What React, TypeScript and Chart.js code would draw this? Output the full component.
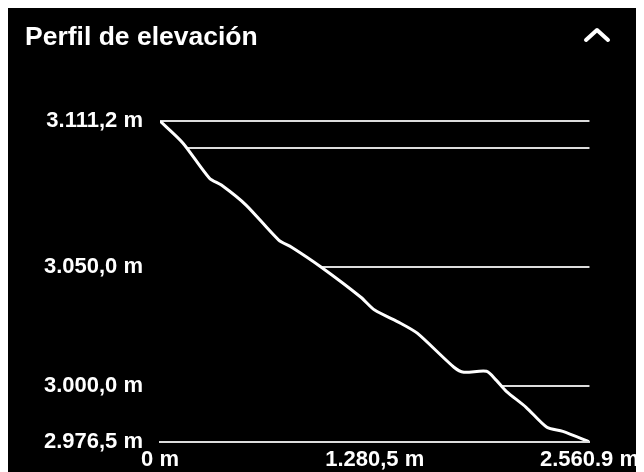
import React, { useEffect, useRef } from "react";
import { Chart, registerables } from "chart.js";

Chart.register(...registerables);

const title = "Perfil de elevación";
const distances = [0, 136, 295, 366, 513, 708, 785, 962, 1198, 1280, 1434, 1534, 1753, 1812, 1947, 2006, 2065, 2183, 2307, 2402, 2560.9];
const elevations = [3111.2, 3102.0, 3087.2, 3084.3, 3075.9, 3061.2, 3058.2, 3049.8, 3037.2, 3031.8, 3026.3, 3022.1, 3007.8, 3005.7, 3006.1, 3002.3, 2997.7, 2991.0, 2982.6, 2980.9, 2976.5];
const yTickValues = [2976.5, 3000, 3050, 3100, 3111.2];
const yTickLabels = ["2.976,5 m", "3.000,0 m", "3.050,0 m", "", "3.111,2 m"];
const xTickValues = [0, 1280.5, 2560.9];
const xTickLabels = ["0 m", "1.280,5 m", "2.560.9 m"];

const FONT = "'Liberation Sans', Arial, sans-serif";

export default function App() {
  const ref = useRef<HTMLCanvasElement>(null);
  useEffect(() => {
    document.documentElement.style.overflow = "hidden";
    document.body.style.overflow = "hidden";
    const chart = new Chart(ref.current as HTMLCanvasElement, {
      type: "line",
      data: {
        datasets: [
          {
            data: distances.map((d, i) => ({ x: d, y: elevations[i] })),
            borderColor: "#ffffff",
            borderWidth: 3,
            backgroundColor: "#000000",
            fill: "start",
            pointRadius: 0,
            tension: 0.25,
          },
        ],
      },
      options: {
        animation: false,
        responsive: false,
        maintainAspectRatio: false,
        layout: { padding: { top: 113, right: 50, left: 0, bottom: 0 } },
        plugins: { legend: { display: false }, tooltip: { enabled: false } },
        scales: {
          x: {
            type: "linear",
            min: 0,
            max: 2560.9,
            grid: { color: "rgba(0,0,0,0)", drawTicks: false },
            border: { display: true, color: "#dcdcdc", width: 2, z: 1 },
            ticks: {
              color: "#ffffff",
              font: { size: 22, weight: "bold", family: FONT },
              padding: 5,
              maxRotation: 0,
              autoSkip: false,
              callback: (_v: any, i: number) => xTickLabels[i],
            },
            afterBuildTicks: (s: any) => {
              s.ticks = xTickValues.map((v) => ({ value: v }));
            },
            afterFit: (s: any) => {
              s.height = 30;
            },
          },
          y: {
            type: "linear",
            min: 2976.5,
            max: 3111.2,
            grid: { color: "#dcdcdc", lineWidth: 2, drawTicks: false },
            border: { display: false },
            ticks: {
              color: "#ffffff",
              font: { size: 22, weight: "bold", family: FONT },
              padding: 17,
              autoSkip: false,
              callback: (_v: any, i: number) => yTickLabels[i],
            },
            afterBuildTicks: (s: any) => {
              s.ticks = yTickValues.map((v) => ({ value: v }));
            },
            afterFit: (s: any) => {
              s.width = 152;
            },
          },
        },
      },
    } as any);
    return () => chart.destroy();
  }, []);

  return (
    <div style={{ position: "relative", width: 636, height: 464, background: "#000", overflow: "hidden" }}>
      <canvas ref={ref} width={636} height={464} style={{ display: "block" }} />
      <div
        style={{
          position: "absolute",
          left: 17,
          top: 15,
          color: "#fff",
          font: `bold 26.5px ${FONT}`,
          lineHeight: "26px",
          whiteSpace: "nowrap",
        }}
      >
        {title}
      </div>
      <svg
        style={{ position: "absolute", left: 570, top: 12 }}
        width={40}
        height={30}
      >
        <polyline
          points="8,20 19,10 30,20"
          fill="none"
          stroke="#fff"
          strokeWidth={4}
          strokeLinecap="round"
          strokeLinejoin="round"
        />
      </svg>
    </div>
  );
}
